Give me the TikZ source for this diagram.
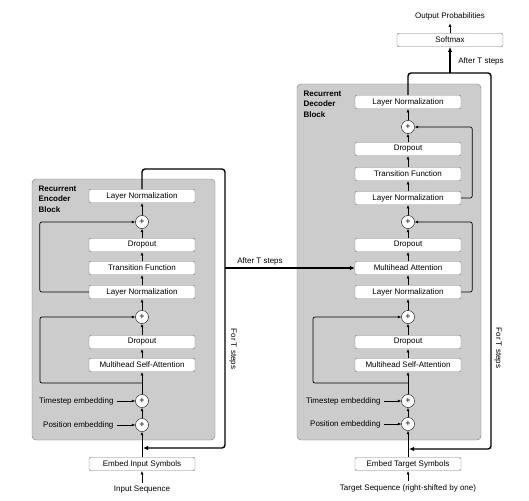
\documentclass[tikz,border=0pt]{standalone}
\usepackage{fontspec}
\setmainfont{Liberation Sans}
\usetikzlibrary{arrows.meta}
\definecolor{blockgray}{HTML}{CCCCCC}
\definecolor{edgegray}{HTML}{7A7A7A}
\begin{document}
\begin{tikzpicture}[x=1pt, y=-1pt,
    font=\fontsize{8}{10.5}\selectfont,
    box/.style={draw=edgegray, fill=white, rounded corners=2pt, minimum width=106pt, minimum height=13.5pt, inner sep=0pt},
    plus/.style={draw, fill=white, circle, minimum size=13pt, inner sep=0pt, font=\fontsize{9}{9}\selectfont},
    blk/.style={draw=edgegray, fill=blockgray, rounded corners=4pt},
    arr/.style={line width=0.7pt, -{Latex[length=3.5pt,width=3pt]}},
    outer/.style={line width=1.4pt, rounded corners=3pt},
    tip/.style={-{Latex[length=5pt,width=4.5pt]}},
    title/.style={font=\fontsize{8}{10.5}\selectfont\bfseries, align=left, anchor=north west}]
  \useasboundingbox (0,0) rectangle (529,500);

  % blocks
  \draw[blk] (32,179) rectangle (215,440);
  \draw[blk] (297,84) rectangle (481,440);
  \node[title] (etitle) at (35,182) {Recurrent\\Encoder\\Block};
  \node[title] (dtitle) at (300,87) {Recurrent\\Decoder\\Block};

  % encoder
  \node[box] (eLN2) at (142,196) {Layer Normalization};
  \node[plus] (eAdd2) at (142,222) {+};
  \node[box] (eDrop2) at (142,245) {Dropout};
  \node[box] (eTrans) at (142,268) {Transition Function};
  \node[box] (eLN1) at (142,292) {Layer Normalization};
  \node[plus] (eAdd1) at (142,317) {+};
  \node[box] (eDrop1) at (142,342) {Dropout};
  \node[box] (eMSA) at (142,365) {Multihead Self-Attention};
  \node[plus] (eTime) at (142,401) {+};
  \node[plus] (ePos) at (142,425) {+};
  \node[box] (eEmbed) at (142,464) {Embed Input Symbols};
  \node (eIn) at (142,490) {Input Sequence};
  \node[anchor=east] (eTimeL) at (117,401) {Timestep embedding};
  \node[anchor=east] (ePosL) at (117,425) {Position embedding};
  \coordinate (eSplit) at (142,383);
  \coordinate (eTop) at (225,169);
  \coordinate (eBack) at (143,448);
  \coordinate (eOut) at (225,268);

  \draw[arr] (eIn) -- (eEmbed);
  \draw[arr] (eEmbed) -- (ePos);
  \draw[arr] (ePos) -- (eTime);
  \draw[arr] (eTime) -- (eMSA);
  \draw[arr] (eMSA) -- (eDrop1);
  \draw[arr] (eDrop1) -- (eAdd1);
  \draw[arr] (eAdd1) -- (eLN1);
  \draw[arr] (eLN1) -- (eTrans);
  \draw[arr] (eTrans) -- (eDrop2);
  \draw[arr] (eDrop2) -- (eAdd2);
  \draw[arr] (eAdd2) -- (eLN2);
  \draw[arr] (eTimeL) -- (eTime);
  \draw[arr] (ePosL) -- (ePos);
  \draw[arr, rounded corners=2pt] (eSplit) -- ++(-102,0) |- (eAdd1);
  \draw[arr, rounded corners=2pt] (eLN1.west) -- ++(-49,0) |- (eAdd2);
  \draw[outer, tip] (eLN2.north) |- (eTop) |- (eBack);

  % decoder
  \node[box] (dLN3) at (408,102) {Layer Normalization};
  \node[plus] (dAdd3) at (408,127) {+};
  \node[box] (dDrop3) at (408,149) {Dropout};
  \node[box] (dTrans) at (408,174) {Transition Function};
  \node[box] (dLN2) at (408,198) {Layer Normalization};
  \node[plus] (dAdd2) at (408,222) {+};
  \node[box] (dDrop2) at (408,245) {Dropout};
  \node[box] (dMHA) at (408,268) {Multihead Attention};
  \node[box] (dLN1) at (408,292) {Layer Normalization};
  \node[plus] (dAdd1) at (408,317) {+};
  \node[box] (dDrop1) at (408,342) {Dropout};
  \node[box] (dMSA) at (408,365) {Multihead Self-Attention};
  \node[plus] (dTime) at (408,401) {+};
  \node[plus] (dPos) at (408,424) {+};
  \node[box] (dEmbed) at (408,464) {Embed Target Symbols};
  \node (dIn) at (408,488) {Target Sequence (right-shifted by one)};
  \node[anchor=east] (dTimeL) at (384,401) {Timestep embedding};
  \node[anchor=east] (dPosL) at (384,424) {Position embedding};
  \node[box] (soft) at (450,40) {Softmax};
  \node (prob) at (450,16) {Output Probabilities};
  \coordinate (dSplit) at (408,383);
  \coordinate (dTop) at (491,73);
  \coordinate (dBack) at (409,449);
  \coordinate (dOut) at (450,73);

  \draw[arr] (dIn) -- (dEmbed);
  \draw[arr] (dEmbed) -- (dPos);
  \draw[arr] (dPos) -- (dTime);
  \draw[arr] (dTime) -- (dMSA);
  \draw[arr] (dMSA) -- (dDrop1);
  \draw[arr] (dDrop1) -- (dAdd1);
  \draw[arr] (dAdd1) -- (dLN1);
  \draw[arr] (dLN1) -- (dMHA);
  \draw[arr] (dMHA) -- (dDrop2);
  \draw[arr] (dDrop2) -- (dAdd2);
  \draw[arr] (dAdd2) -- (dLN2);
  \draw[arr] (dLN2) -- (dTrans);
  \draw[arr] (dTrans) -- (dDrop3);
  \draw[arr] (dDrop3) -- (dAdd3);
  \draw[arr] (dAdd3) -- (dLN3);
  \draw[arr] (dTimeL) -- (dTime);
  \draw[arr] (dPosL) -- (dPos);
  \draw[arr, rounded corners=2pt] (dSplit) -- ++(-95,0) |- (dAdd1);
  \draw[arr, rounded corners=2pt] (dLN1.east) -- ++(11,0) |- (dAdd2);
  \draw[arr, rounded corners=2pt] (dLN2.east) -- ++(11,0) |- (dAdd3);
  \draw[outer, tip] (dLN3.north) |- (dTop) |- (dBack);
  \draw[outer, tip] (dOut) -- (soft);
  \draw[arr] (soft) -- (prob);

  % between the blocks
  \draw[outer, tip] (eOut) -- (dMHA);
  \node (afterE) at (260,261) {After T steps};
  \node (afterD) at (481,61) {After T steps};
  \node[rotate=-90] (forE) at (233,349) {For T steps};
  \node[rotate=-90] (forD) at (498,348) {For T steps};
\end{tikzpicture}
\end{document}
